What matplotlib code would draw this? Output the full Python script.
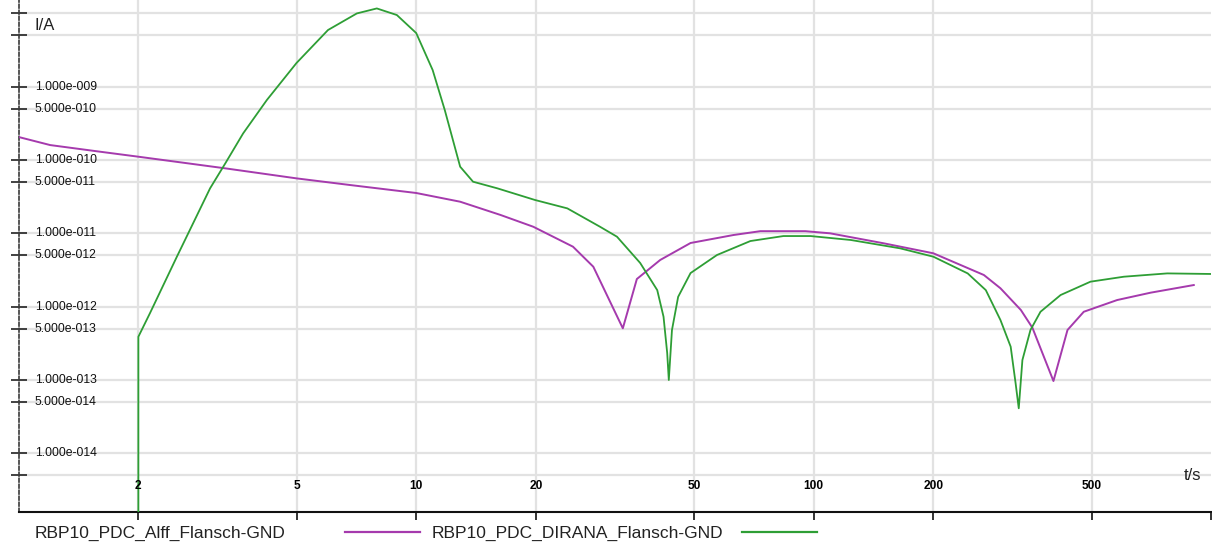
import matplotlib
matplotlib.use("Agg")
import matplotlib.pyplot as plt
from matplotlib.lines import Line2D
import numpy as np

plt.rcParams['font.family'] = ['Liberation Sans', 'DejaVu Sans']

# Polarisation / depolarisation current, measurement "Alff"
alff_t = [1.0, 1.2, 1.6, 2.0, 3.31, 5.0, 6.82, 10.0, 12.9, 16.3, 19.7, 24.8, 27.9,
          33.1, 35.9, 41.1, 49.0, 62.8, 73.4, 95.3, 110, 150, 200, 268, 295, 332,
          355, 401, 435, 478, 580, 704, 904]
alff_i = [2.06e-10, 1.60e-10, 1.30e-10, 1.11e-10, 7.70e-11, 5.62e-11, 4.56e-11,
          3.55e-11, 2.70e-11, 1.78e-11, 1.23e-11, 6.57e-12, 3.50e-12, 5.06e-13,
          2.38e-12, 4.33e-12, 7.38e-12, 9.48e-12, 1.07e-11, 1.07e-11, 1.00e-11,
          7.31e-12, 5.34e-12, 2.70e-12, 1.78e-12, 9.00e-13, 5.15e-13, 9.66e-14,
          4.80e-13, 8.51e-13, 1.23e-12, 1.55e-12, 1.97e-12]

# Measurement "DIRANA"
dirana_t = [2.0, 2.0, 2.14, 2.50, 2.67, 3.03, 3.31, 3.67, 4.21, 5.0, 6.0, 7.09, 7.96,
            8.94, 10.0, 11.0, 11.8, 12.9, 13.9, 16.0, 19.9, 24.0, 29.0, 32.0, 36.6,
            40.4, 41.9, 42.8, 43.2, 44.0, 45.6, 49.0, 57.1, 69.3, 83.9, 98.2, 124,
            165, 200, 244, 271, 295, 313, 322, 328, 335, 351, 372, 418, 497, 603,
            775, 996]
dirana_i = [0.0, 3.88e-13, 8.18e-13, 4.80e-12, 1.00e-11, 4.11e-11, 9.02e-11,
            2.31e-10, 6.59e-10, 2.11e-09, 5.94e-09, 1.00e-08, 1.17e-08, 9.51e-09,
            5.40e-09, 1.69e-09, 4.81e-10, 8.11e-11, 5.06e-11, 4.11e-11, 2.85e-11,
            2.19e-11, 1.23e-11, 8.99e-12, 3.94e-12, 1.68e-12, 7.28e-13, 2.33e-13,
            9.98e-14, 4.80e-13, 1.36e-12, 2.87e-12, 5.06e-12, 7.85e-12, 9.18e-12,
            9.18e-12, 8.11e-12, 6.24e-12, 4.80e-12, 2.84e-12, 1.68e-12, 6.56e-13,
            2.84e-13, 9.08e-14, 4.10e-14, 1.87e-13, 4.80e-13, 8.51e-13, 1.44e-12,
            2.19e-12, 2.56e-12, 2.84e-12, 2.79e-12]

series_names = ["RBP10_PDC_Alff_Flansch-GND", "RBP10_PDC_DIRANA_Flansch-GND"]
series_colors = ["#a53aad", "#2e9e35"]

x_ticks = [2, 5, 10, 20, 50, 100, 200, 500]
x_tick_labels = ["2", "5", "10", "20", "50", "100", "200", "500"]
y_ticks = [1e-8, 5e-9, 1e-9, 5e-10, 1e-10, 5e-11, 1e-11, 5e-12, 1e-12, 5e-13,
           1e-13, 5e-14, 1e-14, 5e-15]
y_labeled = [1e-9, 5e-10, 1e-10, 5e-11, 1e-11, 5e-12, 1e-12, 5e-13, 1e-13, 5e-14, 1e-14]
y_labels = ["1.000e-009", "5.000e-010", "1.000e-010", "5.000e-011", "1.000e-011",
            "5.000e-012", "1.000e-012", "5.000e-013", "1.000e-013", "5.000e-014",
            "1.000e-014"]

W, H = 1212, 545
fig = plt.figure(figsize=(W / 100, H / 100), dpi=100)
ax = fig.add_axes([18.7 / W, 33 / H, 1192.5 / W, 512 / H])
ax.set_xscale("log")
ax.set_yscale("log")
ax.set_xlim(1, 1000)
ax.set_ylim(1.578e-15, 1.525e-8)

grid_c = "#e2e2e2"
for xv in x_ticks:
    ax.axvline(xv, color=grid_c, lw=1.6, zorder=0)
for yv in y_ticks:
    ax.axhline(yv, color=grid_c, lw=1.6, zorder=0)

ax.plot(alff_t, alff_i, color=series_colors[0], lw=1.4, zorder=3)
ax.plot(dirana_t, dirana_i, color=series_colors[1], lw=1.3, zorder=3)

for s in ("top", "right"):
    ax.spines[s].set_visible(False)
ax.spines["left"].set_linestyle((0, (2.2, 1.4)))
ax.spines["left"].set_color("#3a3a3a")
ax.spines["left"].set_linewidth(1.2)
ax.spines["bottom"].set_color("#111111")
ax.spines["bottom"].set_linewidth(1.5)

ax.set_xticks(x_ticks + [1000])
ax.set_xticks([], minor=True)
ax.set_yticks(y_ticks)
ax.set_yticks([], minor=True)
ax.tick_params(axis="x", direction="out", length=6, width=1.2, color="#111111",
               labelbottom=False)
ax.tick_params(axis="y", direction="inout", length=11, width=1.2, color="#222222",
               labelleft=False)

for yv, lab in zip(y_labeled, y_labels):
    ax.annotate(lab, xy=(0, yv), xycoords=("axes fraction", "data"),
                xytext=(11.7, 0), textcoords="offset points",
                ha="left", va="center", fontsize=8.8, color="#111111")
for xv, lab in zip(x_ticks, x_tick_labels):
    ax.annotate(lab, xy=(xv, 0), xycoords=("data", "axes fraction"),
                xytext=(0, 18.7), textcoords="offset points",
                ha="center", va="center", fontsize=8.6, color="#000000",
                fontweight="bold")

fig.text(35 / W, 1 - 26 / H, "I/A", ha="left", va="center", fontsize=12, color="#222222")
fig.text(1192 / W, 1 - 476 / H, "t/s", ha="center", va="center", fontsize=12,
         color="#222222")

# Legend row below the axis: label followed by its line sample
leg_y = 1 - 531.7 / H
base_y = 1 - 538 / H
fig.text(35 / W, base_y, series_names[0], ha="left", va="baseline", fontsize=12.5,
         color="#222222")
fig.add_artist(Line2D([345 / W, 420 / W], [leg_y, leg_y], color=series_colors[0], lw=1.6))
fig.text(432 / W, base_y, series_names[1], ha="left", va="baseline", fontsize=12.5,
         color="#222222")
fig.add_artist(Line2D([742 / W, 817 / W], [leg_y, leg_y], color=series_colors[1], lw=1.6))

fig.savefig("out.png", dpi=100)
